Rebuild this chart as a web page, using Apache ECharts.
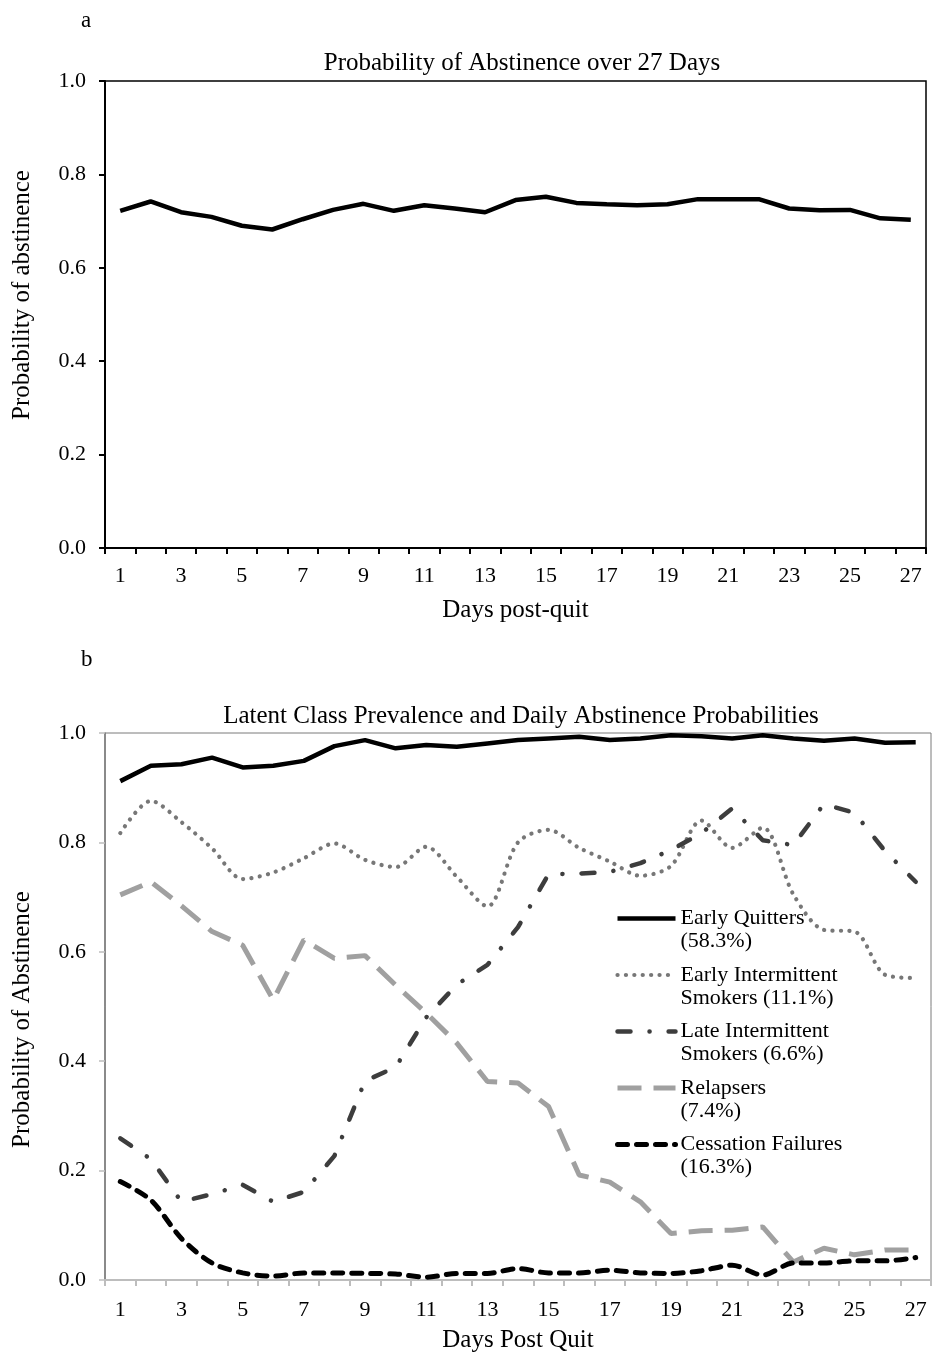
<!DOCTYPE html>
<html>
<head>
<meta charset="utf-8">
<script src="https://cdn.jsdelivr.net/npm/echarts@6/dist/echarts.min.js"></script>
<style>
html,body{margin:0;padding:0;background:#fff;}
#chart{width:932px;height:1357px;}
</style>
</head>
<body>
<div id="chart"></div>
<script>
// ---- data ----
const days = ['1','2','3','4','5','6','7','8','9','10','11','12','13','14','15','16','17','18','19','20','21','22','23','24','25','26','27'];
const yTicks = [0, 0.2, 0.4, 0.6, 0.8, 1.0];

const overall = [0.722,0.742,0.719,0.709,0.690,0.682,0.704,0.724,0.737,0.722,0.734,0.727,0.719,0.745,0.752,0.739,0.736,0.734,0.736,0.747,0.747,0.747,0.727,0.723,0.724,0.706,0.703];

const earlyQuitters = [0.912,0.940,0.943,0.955,0.937,0.940,0.949,0.976,0.987,0.972,0.978,0.975,0.981,0.987,0.990,0.993,0.987,0.990,0.996,0.994,0.990,0.996,0.990,0.986,0.990,0.982,0.983];
const earlyIntermittent = [0.817,0.876,0.837,0.789,0.733,0.745,0.771,0.798,0.768,0.755,0.792,0.737,0.683,0.800,0.823,0.790,0.765,0.739,0.757,0.840,0.790,0.827,0.705,0.640,0.637,0.558,0.552];
const lateIntermittent = [0.259,0.221,0.143,0.157,0.174,0.143,0.161,0.227,0.364,0.389,0.480,0.540,0.576,0.645,0.742,0.743,0.746,0.762,0.786,0.817,0.862,0.804,0.795,0.870,0.854,0.784,0.728];
const relapsers = [0.704,0.728,0.684,0.637,0.612,0.512,0.622,0.588,0.593,0.539,0.488,0.433,0.363,0.360,0.317,0.192,0.179,0.143,0.085,0.090,0.091,0.097,0.033,0.058,0.046,0.055,0.055];
const cessationFailures = [0.180,0.146,0.076,0.031,0.013,0.007,0.013,0.013,0.012,0.011,0.005,0.012,0.012,0.021,0.013,0.013,0.018,0.013,0.012,0.017,0.027,0.009,0.031,0.031,0.035,0.035,0.041];

const classNames = [
  'Early Quitters\n(58.3%)',
  'Early Intermittent\nSmokers (11.1%)',
  'Late Intermittent\nSmokers (6.6%)',
  'Relapsers\n(7.4%)',
  'Cessation Failures\n(16.3%)'
];

// ---- chart ----
const FONT = '"Liberation Serif", "Times New Roman", serif';
const chart = echarts.init(document.getElementById('chart'), null, {renderer: 'canvas'});

function xAxisCfg(gridIndex, name, lineColor, tickColor, lineW, nameGap, labelMargin) {
  return {
    gridIndex: gridIndex, type: 'category', data: days, boundaryGap: true,
    axisLine: {show: true, lineStyle: {color: lineColor, width: lineW}},
    axisTick: {show: true, interval: 0, length: 6, lineStyle: {color: tickColor, width: lineW}},
    axisLabel: {interval: 1, fontFamily: FONT, fontSize: 22, color: '#000', margin: labelMargin},
    splitLine: {show: false},
    name: name, nameLocation: 'middle', nameGap: nameGap,
    nameTextStyle: {fontFamily: FONT, fontSize: 25, color: '#000'}
  };
}
function yAxisCfg(gridIndex, name, lineColor, tickColor, lineW, namePadding) {
  return {
    gridIndex: gridIndex, type: 'value', min: yTicks[0], max: yTicks[yTicks.length - 1], interval: 0.2,
    axisLine: {show: true, lineStyle: {color: lineColor, width: lineW}},
    axisTick: {show: true, length: 6, lineStyle: {color: tickColor, width: lineW}},
    axisLabel: {fontFamily: FONT, fontSize: 22, color: '#000', margin: 19, formatter: v => v.toFixed(1)},
    splitLine: {show: false},
    name: name, nameLocation: 'middle', nameGap: 70,
    nameTextStyle: {fontFamily: FONT, fontSize: 25, color: '#000', padding: namePadding}
  };
}

const option = {
  animation: false,
  backgroundColor: '#fff',
  title: [
    {text: 'a', left: 76, top: 4, textStyle: {fontFamily: FONT, fontSize: 23, fontWeight: 'normal', color: '#000'}},
    {text: 'Probability of Abstinence over 27 Days', left: 517, top: 46, textAlign: 'center',
     textStyle: {fontFamily: FONT, fontSize: 25, fontWeight: 'normal', color: '#000'}},
    {text: 'b', left: 76, top: 643, textStyle: {fontFamily: FONT, fontSize: 23, fontWeight: 'normal', color: '#000'}},
    {text: 'Latent Class Prevalence and Daily Abstinence Probabilities', left: 516, top: 699, textAlign: 'center',
     textStyle: {fontFamily: FONT, fontSize: 25, fontWeight: 'normal', color: '#000'}}
  ],
  grid: [
    {left: 105, right: 6, top: 81, height: 467, show: true, borderColor: '#000', borderWidth: 1.5, backgroundColor: 'transparent'},
    {left: 105, right: 1, top: 733, height: 547, show: true, borderColor: '#7a7a7a', borderWidth: 1, backgroundColor: 'transparent'}
  ],
  xAxis: [
    xAxisCfg(0, 'Days post-quit', '#000', '#000', 2, 50, 17),
    xAxisCfg(1, 'Days Post Quit', '#bdbdbd', '#bdbdbd', 2, 48, 19)
  ],
  yAxis: [
    yAxisCfg(0, 'Probability of abstinence', '#000', '#000', 2, [0, 0, 0, 39]),
    yAxisCfg(1, 'Probability of Abstinence', '#7a7a7a', '#bdbdbd', 1.5, [0, 26, 0, 0])
  ],
  legend: {
    data: classNames,
    formatter: name => '\n' + name,
    orient: 'vertical', left: 615, top: 884, padding: 0,
    itemWidth: 58, itemHeight: 2, itemGap: -12.5,
    itemStyle: {opacity: 0},
    lineStyle: {width: 'inherit'},
    selectedMode: false,
    textStyle: {fontFamily: FONT, fontSize: 22, color: '#000', lineHeight: 23}
  },
  series: [
    {type: 'line', name: 'overall', xAxisIndex: 0, yAxisIndex: 0, data: overall, symbol: 'none',
     lineStyle: {color: '#000', width: 4.5}, itemStyle: {color: '#000'}},
    {type: 'line', name: classNames[0], xAxisIndex: 1, yAxisIndex: 1, data: earlyQuitters, symbol: 'none', z: 5,
     lineStyle: {color: '#000', width: 4.5}, itemStyle: {color: '#000'}},
    {type: 'line', name: classNames[1], xAxisIndex: 1, yAxisIndex: 1, data: earlyIntermittent, symbol: 'none', smooth: 0.3,
     lineStyle: {color: '#777', width: 4.2, type: [0.1, 8.3], cap: 'round'}, itemStyle: {color: '#777'}},
    {type: 'line', name: classNames[2], xAxisIndex: 1, yAxisIndex: 1, data: lateIntermittent, symbol: 'none',
     lineStyle: {color: '#3d3d3d', width: 4.5, type: [13, 19, 0.1, 19], cap: 'round'}, itemStyle: {color: '#3d3d3d'}},
    {type: 'line', name: classNames[3], xAxisIndex: 1, yAxisIndex: 1, data: relapsers, symbol: 'none',
     lineStyle: {color: '#a0a0a0', width: 5, type: [24, 12]}, itemStyle: {color: '#a0a0a0'}},
    {type: 'line', name: classNames[4], xAxisIndex: 1, yAxisIndex: 1, data: cessationFailures, symbol: 'none', smooth: 0.3,
     lineStyle: {color: '#000', width: 5, type: [10, 9], cap: 'round'}, itemStyle: {color: '#000'}}
  ]
};
chart.setOption(option);
</script>
</body>
</html>
